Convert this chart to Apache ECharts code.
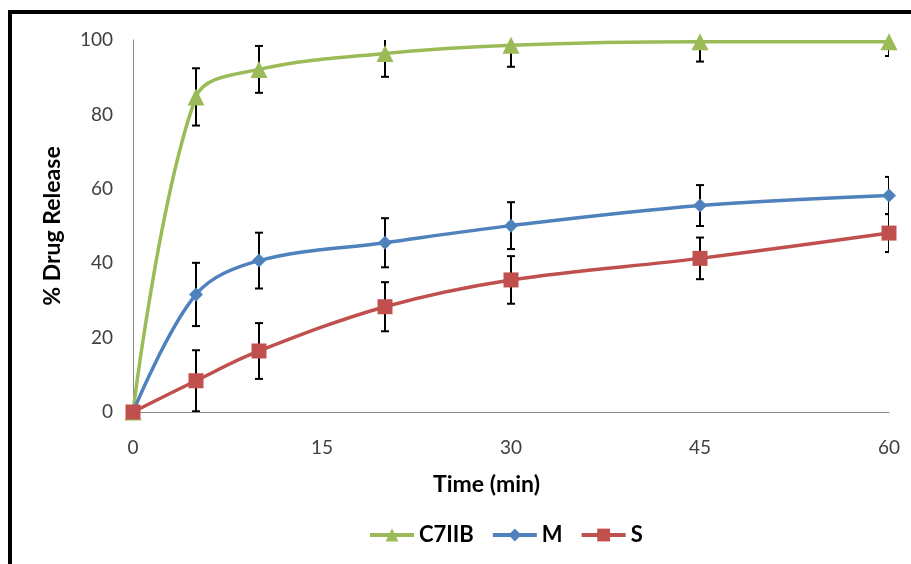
<!DOCTYPE html>
<html>
<head>
<meta charset="utf-8">
<script src="https://cdn.jsdelivr.net/npm/echarts@6/dist/echarts.min.js"></script>
<style>
  html, body { margin: 0; padding: 0; background: #fff; }
  #chart { width: 911px; height: 564px; }
</style>
</head>
<body>
<div id="chart"></div>
<script>
// sampling times (min)
var times = [0, 5, 10, 20, 30, 45, 60];

// % drug release and SD for each formulation
var c7iib = [0, 84.7, 92.1, 96.4, 98.6, 99.5, 99.5];
var c7iibSd = [0, 7.7, 6.3, 6.3, 5.8, 5.3, 3.8];
var mVals = [0, 31.6, 40.7, 45.5, 50.1, 55.5, 58.2];
var mSd = [0, 8.5, 7.5, 6.6, 6.3, 5.5, 5.0];
var sVals = [0, 8.4, 16.4, 28.3, 35.5, 41.3, 48.1];
var sSd = [0, 8.2, 7.5, 6.6, 6.4, 5.6, 5.1];

var xTicks = [0, 15, 30, 45, 60];
var yTicks = [0, 20, 40, 60, 80, 100];

var FONT = 'Lato';

function pairs(vals) {
    return times.map(function (t, i) { return [t, vals[i]]; });
}
function errPairs(vals, sd) {
    var out = [];
    times.forEach(function (t, i) {
        if (sd[i] > 0) out.push([t, vals[i] - sd[i], vals[i] + sd[i]]);
    });
    return out;
}

// error bar with caps
function renderErr(params, api) {
    var x = api.value(0);
    var lo = api.coord([x, api.value(1)]);
    var hi = api.coord([x, api.value(2)]);
    var w = 4;
    var st = { stroke: '#000', lineWidth: 2 };
    return {
        type: 'group',
        children: [
            { type: 'line', shape: { x1: hi[0], y1: hi[1], x2: lo[0], y2: lo[1] }, style: st },
            { type: 'line', shape: { x1: hi[0] - w, y1: hi[1], x2: hi[0] + w, y2: hi[1] }, style: st },
            { type: 'line', shape: { x1: lo[0] - w, y1: lo[1], x2: lo[0] + w, y2: lo[1] }, style: st }
        ]
    };
}

function errSeries(vals, sd) {
    return {
        type: 'custom',
        renderItem: renderErr,
        data: errPairs(vals, sd),
        encode: { x: 0, y: [1, 2] },
        clip: true,
        z: 1,
        silent: true
    };
}

function lineSeries(name, vals, color, symbol, size) {
    return {
        name: name,
        type: 'line',
        data: pairs(vals),
        smooth: 0.35,
        symbol: symbol,
        symbolSize: size,
        z: 3,
        lineStyle: { color: color, width: 3.5 },
        itemStyle: { color: color }
    };
}

var myChart = echarts.init(document.getElementById('chart'));

var option = {
    backgroundColor: '#fff',
    animation: false,
    textStyle: { fontFamily: FONT },
    graphic: [{
        type: 'rect',
        shape: { x: 10, y: 12, width: 960, height: 600 },
        style: { fill: 'none', stroke: '#000', lineWidth: 4 },
        silent: true
    }],
    grid: { left: 133, right: 22, top: 40, bottom: 152 },
    legend: {
        data: ['C7IIB', 'M', 'S'],
        left: 363,
        top: 519,
        itemWidth: 44,
        itemHeight: 16,
        itemGap: 17,
        lineStyle: { width: 4 },
        textStyle: { fontFamily: FONT, fontSize: 22, fontWeight: 'bold', color: '#000' }
    },
    xAxis: {
        type: 'value',
        min: 0,
        max: 60,
        interval: 15,
        name: 'Time (min)',
        nameLocation: 'middle',
        nameGap: 61,
        nameTextStyle: {
            fontFamily: FONT, fontSize: 23, fontWeight: 'bold', color: '#000',
            padding: [0, 49, 0, 0]
        },
        axisLine: { show: true, lineStyle: { color: '#868686', width: 1 } },
        axisTick: { show: false },
        splitLine: { show: false },
        axisLabel: {
            margin: 26,
            fontFamily: FONT, fontSize: 19, color: '#404040',
            formatter: function (v) { return xTicks.indexOf(v) >= 0 ? String(v) : ''; }
        }
    },
    yAxis: {
        type: 'value',
        min: 0,
        max: 100,
        interval: 20,
        name: '% Drug Release',
        nameLocation: 'middle',
        nameGap: 69,
        nameTextStyle: { fontFamily: FONT, fontSize: 23, fontWeight: 'bold', color: '#000' },
        axisLine: { show: true, lineStyle: { color: '#868686', width: 1 } },
        axisTick: { show: false },
        splitLine: { show: false },
        axisLabel: {
            margin: 20,
            fontFamily: FONT, fontSize: 19, color: '#404040',
            formatter: function (v) { return yTicks.indexOf(v) >= 0 ? String(v) : ''; }
        }
    },
    series: [
        errSeries(c7iib, c7iibSd),
        errSeries(mVals, mSd),
        errSeries(sVals, sSd),
        lineSeries('C7IIB', c7iib, '#9BBB59', 'triangle', 17),
        lineSeries('M', mVals, '#4F81BD', 'diamond', 14),
        lineSeries('S', sVals, '#C0504D', 'rect', 15)
    ]
};

myChart.setOption(option);
</script>
</body>
</html>
